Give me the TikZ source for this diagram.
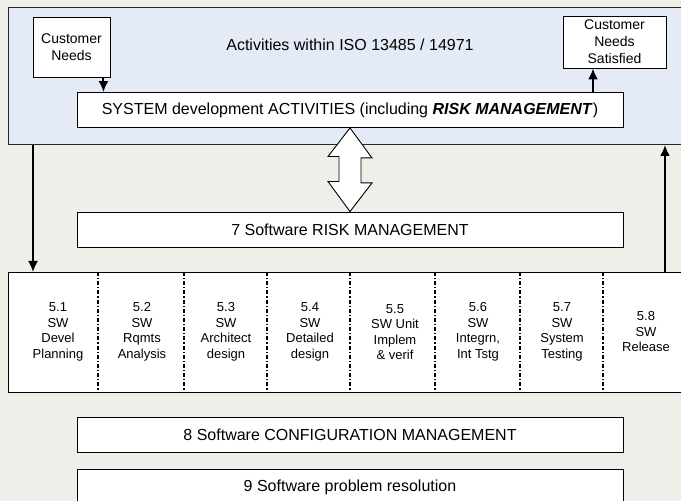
\documentclass[tikz,border=0pt]{standalone}
\usepackage{fontspec}
\setmainfont{Liberation Sans}
\usetikzlibrary{arrows.meta,positioning}

\definecolor{paper}{RGB}{237,239,232}
\definecolor{isoblue}{RGB}{229,235,246}

\tikzset{
  box/.style={draw, fill=white, line width=0.9pt, inner sep=1pt, align=center},
  bigbox/.style={box, minimum width=546pt, minimum height=35pt},
  smallbox/.style={box, font=\fontsize{14}{17}\selectfont},
  col/.style={align=center, inner sep=0pt, font=\fontsize{13}{15.5}\selectfont},
  flow/.style={-{Latex[length=11pt,width=10pt]}, line width=2pt},
  divider/.style={line width=1.3pt, dash pattern=on 4pt off 2pt on 1.2pt off 2pt},
}

\begin{document}
\begin{tikzpicture}[x=10pt, y=10pt, font=\fontsize{16}{19}\selectfont]
\useasboundingbox[fill=paper] (0,0) rectangle (68.1,50.1);

% ISO frame with the system level inside
\node[draw=black!85, line width=1pt, fill=isoblue, minimum width=690pt, minimum height=137pt, anchor=north west] (iso) at (0.75,49.4) {};
\node (title) at (35,45.6) {Activities within ISO 13485 / 14971};
\node[smallbox, minimum width=77pt, minimum height=60pt] (cn) at (7.15,45.4) {Customer\\Needs};
\node[smallbox, minimum width=103pt, minimum height=52pt] (cns) at (61.45,45.9) {Customer\\Needs\\Satisfied};
\node[bigbox] (sys) at (35,39.1) {SYSTEM development ACTIVITIES (including \textbf{\textit{RISK MANAGEMENT}})};

\draw[flow] ([xshift=-7pt]cn.south east) -- ([xshift=-7pt]cn.south east |- sys.north);
\draw[flow] ([xshift=-21.5pt]cns.south |- sys.north) -- ([xshift=-21.5pt]cns.south);

% risk management
\node[bigbox] (risk) at (35,27.15) {7 Software RISK MANAGEMENT};
\draw[line width=0.9pt, fill=white] (sys.south) -- ++(2.2,-3) -- ++(-1.1,0) -- ++(0,-2.5) -- ++(1.1,0)
  -- (risk.north) -- ++(-2.2,3) -- ++(1.1,0) -- ++(0,2.5) -- ++(-1.1,0) -- cycle;

% software development process
\node[draw, fill=white, line width=0.9pt, minimum width=690pt, minimum height=120pt, anchor=north west] (sw) at (0.75,22.9) {};
\foreach \x in {9.8,18.4,26.7,35.0,43.5,52.0,60.3}
  \draw[divider] (\x,0 |- sw.north) -- (\x,0 |- sw.south);

\node[col] (c1) at (5.8,16.9) {5.1\\SW\\Devel\\Planning};
\node[col] (c2) at (14.2,16.9) {5.2\\SW\\Rqmts\\Analysis};
\node[col] (c3) at (22.6,16.9) {5.3\\SW\\Architect\\design};
\node[col] (c4) at (31.0,16.9) {5.4\\SW\\Detailed\\design};
\node[col] (c5) at (39.5,16.9) {5.5\\SW Unit\\Implem\\\& verif};
\node[col] (c6) at (47.8,16.9) {5.6\\SW\\Integrn,\\Int Tstg};
\node[col] (c7) at (56.2,16.9) {5.7\\SW\\System\\Testing};
\node[col] (c8) at (64.6,16.9) {5.8\\SW\\Release};

\coordinate (dn) at (3.3,0);
\coordinate (up) at (66.5,0);
\draw[flow] (iso.south -| dn) -- (sw.north -| dn);
\draw[flow] (sw.north -| up) -- (iso.south -| up);

% supporting processes
\node[bigbox] (scm) at (35,6.6) {8 Software CONFIGURATION MANAGEMENT};
\node[bigbox, minimum height=36pt] (spr) at (35,1.4) {9 Software problem resolution};
\end{tikzpicture}
\end{document}
